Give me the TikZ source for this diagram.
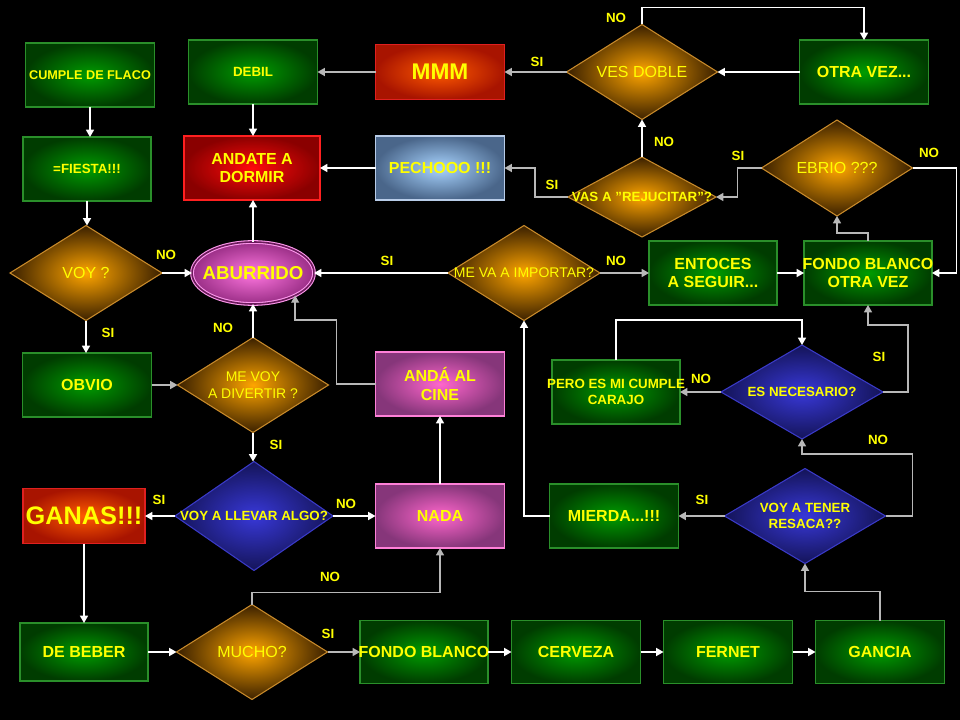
\documentclass[tikz,border=0pt]{standalone}
\usepackage{fontspec}
\setmainfont{Liberation Sans}
\usetikzlibrary{shapes.geometric,arrows.meta}
\definecolor{ylw}{HTML}{FFFF00}
\definecolor{lgray}{HTML}{B8B8B8}
\definecolor{gborder}{HTML}{2A8F2A}
\definecolor{ginner}{HTML}{009C00}
\definecolor{gouter}{HTML}{003C00}
\definecolor{oborder}{HTML}{C88A2A}
\definecolor{oinner}{HTML}{FFA500}
\definecolor{oouter}{HTML}{3A2000}
\definecolor{bborder}{HTML}{3A3AC8}
\definecolor{binner}{HTML}{3838D8}
\definecolor{bouter}{HTML}{141458}
\definecolor{rborder}{HTML}{FF2020}
\definecolor{rinner}{HTML}{FF0A0A}
\definecolor{router}{HTML}{8A0000}
\definecolor{mborder}{HTML}{E02020}
\definecolor{minner}{HTML}{FF5A00}
\definecolor{mouter}{HTML}{A81400}
\definecolor{pborder}{HTML}{FF80D8}
\definecolor{pinner}{HTML}{FF66CC}
\definecolor{pouter}{HTML}{86367A}
\definecolor{lbborder}{HTML}{B8CCE8}
\definecolor{lbinner}{HTML}{A8D4FF}
\definecolor{lbouter}{HTML}{4A668A}
\definecolor{abborder}{HTML}{FF99EE}
\definecolor{abinner}{HTML}{FF77E0}
\definecolor{abouter}{HTML}{9A2E86}
\definecolor{abgap}{HTML}{6A1A5A}
\begin{document}
\begin{tikzpicture}[x=0.75pt,y=-0.75pt,
  sz/.style 2 args={minimum width=#1*0.75pt, minimum height=#2*0.75pt},
  txt/.style={text=ylw, align=center, inner sep=0pt},
  t/.style 2 args={label={[txt,#1]center:{#2}}},
  fb10/.style={font=\bfseries\fontsize{10}{11.5}\selectfont},
  fb9/.style={font=\bfseries\fontsize{9.5}{11}\selectfont},
  fb12/.style={font=\bfseries\fontsize{12}{14}\selectfont},
  fr12/.style={font=\fontsize{12}{14}\selectfont},
  fr10/.style={font=\fontsize{10.5}{12.5}\selectfont},
  base/.style={draw, inner sep=0pt, outer sep=0pt},
  box/.style={base, rectangle, line width=0.9pt},
  gbox/.style={box, draw=gborder, inner color=ginner, outer color=gouter},
  rbox/.style={box, draw=rborder, inner color=rinner, outer color=router},
  mbox/.style={box, draw=mborder, inner color=minner, outer color=mouter},
  pbox/.style={box, draw=pborder, inner color=pinner, outer color=pouter},
  lbbox/.style={box, draw=lbborder, inner color=lbinner, outer color=lbouter},
  dia/.style={base, diamond, line width=0.8pt},
  odia/.style={dia, draw=oborder, inner color=oinner, outer color=oouter},
  bdia/.style={dia, draw=bborder, inner color=binner, outer color=bouter},
  lbl/.style={text=ylw, inner sep=0pt, font=\bfseries\fontsize{10}{11}\selectfont},
  wl/.style={draw=white, line width=1.1pt, -{Triangle[width=6pt,length=5.5pt]}},
  gl/.style={wl, draw=lgray},
]
\fill[black] (0,0) rectangle (960,720);
\useasboundingbox (0,0) rectangle (960,720);

% row 1
\node[gbox, sz={129}{64}, t={fb9}{CUMPLE DE FLACO}] (cumple) at (90,75) {};
\node[gbox, sz={129}{64}, t={fb10}{DEBIL}] (debil) at (253,72) {};
\node[mbox, sz={129}{55}, t={font=\bfseries\fontsize{17}{19}\selectfont}{MMM}] (mmm) at (440,72) {};
\node[odia, sz={151}{95}, t={fr12}{VES DOBLE}] (ves) at (642,72) {};
\node[gbox, sz={129}{64}, t={fb12}{OTRA VEZ...}] (otra) at (864,72) {};
% row 2
\node[gbox, sz={128}{64}, t={fb10}{=FIESTA!!!}] (fiesta) at (87,169) {};
\node[rbox, sz={136}{64}, t={fb12}{ANDATE A\\DORMIR}] (andate) at (252,168) {};
\node[lbbox, sz={129}{64}, t={fb12}{PECHOOO !!!}] (pech) at (440,168) {};
\node[odia, sz={148}{80}, t={fb10}{VAS A "REJUCITAR"?}] (vas) at (642,197) {};
\node[odia, sz={151}{96}, t={fr12}{EBRIO ???}] (ebrio) at (837,168) {};
% row 3
\node[odia, sz={152}{95}, t={fr12}{VOY ?}] (voy) at (86,273) {};
\node[ellipse, base, draw=abborder, double=abgap, double distance=1.2pt, line width=0.8pt,
      inner color=abinner, outer color=abouter, sz={122}{62},
      t={font=\bfseries\fontsize{14}{16}\selectfont}{ABURRIDO}] (aburr) at (253,273) {};
\node[odia, sz={152}{95}, t={fr10}{ME VA A IMPORTAR?}] (imp) at (524,273) {};
\node[gbox, sz={128}{64}, t={fb12}{ENTOCES\\A SEGUIR...}] (ent) at (713,273) {};
\node[gbox, sz={128}{64}, t={fb12}{FONDO BLANCO\\OTRA VEZ}] (fbov) at (868,273) {};
% row 4
\node[gbox, sz={129}{64}, t={fb12}{OBVIO}] (obvio) at (87,385) {};
\node[odia, sz={151}{95}, t={fr10}{ME VOY\\A DIVERTIR ?}] (div) at (253,385) {};
\node[pbox, sz={129}{64}, t={fb12}{ANDÁ AL\\CINE}] (cine) at (440,384) {};
\node[gbox, sz={128}{64}, t={fb10}{PERO ES MI CUMPLE\\CARAJO}] (pero) at (616,392) {};
\node[bdia, sz={162}{94}, t={fb10}{ES NECESARIO?}] (nec) at (802,392) {};
% row 5
\node[mbox, sz={122}{55}, t={font=\bfseries\fontsize{19}{21}\selectfont}{GANAS!!!}] (ganas) at (84,516) {};
\node[bdia, sz={158}{109}, t={fb10}{VOY A LLEVAR ALGO?}] (llevar) at (254,516) {};
\node[pbox, sz={129}{64}, t={fb12}{NADA}] (nada) at (440,516) {};
\node[gbox, sz={129}{64}, t={fb12}{MIERDA...!!!}] (mierda) at (614,516) {};
\node[bdia, sz={161}{95}, t={fb10}{VOY A TENER\\RESACA??}] (resaca) at (805,516) {};
% row 6
\node[gbox, sz={128}{58}, t={fb12}{DE BEBER}] (debeber) at (84,652) {};
\node[odia, sz={151}{95}, t={fr12}{MUCHO?}] (mucho) at (252,652) {};
\node[gbox, sz={128}{63}, t={fb12}{FONDO BLANCO}] (fb) at (424,652) {};
\node[gbox, sz={129}{63}, t={fb12}{CERVEZA}] (cerv) at (576,652) {};
\node[gbox, sz={129}{63}, t={fb12}{FERNET}] (fern) at (728,652) {};
\node[gbox, sz={129}{63}, t={fb12}{GANCIA}] (ganc) at (880,652) {};

% connectors
\draw[wl] (cumple.south) -- (cumple.south |- fiesta.north);
\draw[wl] (fiesta.south) -- (fiesta.south |- voy.north);
\draw[wl] (debil.south) -- (debil.south |- andate.north);
\draw[gl] (mmm.west) -- (debil.east);
\draw[gl] (ves.west) -- (mmm.east);
\draw[wl] (ves.north) -- ++(0,-17) -| (otra.north);
\draw[wl] (otra.west) -- (ves.east);
\draw[wl] (vas.north) -- (ves.south);
\draw[gl] (vas.west) -- ++(-33,0) |- (pech.east);
\draw[gl] (ebrio.west) -- ++(-24,0) |- (vas.east);
\draw[wl] (ebrio.east) -- ++(44,0) |- (fbov.east);
\draw[gl] (fbov.north) -- ++(0,-8) -| (ebrio.south);
\draw[wl] (pech.west) -- (andate.east);
\draw[wl] (aburr.north) -- (aburr.north |- andate.south);
\draw[wl] (voy.east) -- (aburr.west);
\draw[wl] (voy.south) -- (voy.south |- obvio.north);
\draw[wl] (imp.west) -- (aburr.east);
\draw[gl] (imp.east) -- (ent.west);
\draw[wl] (ent.east) -- (fbov.west);
\draw[gl] (obvio.east) -- (div.west);
\draw[wl] (div.north) -- (aburr.south);
\draw[gl] (cine.west) -- ++(-39,0) -- ++(0,-64) -| (aburr.-28);
\draw[wl] (div.south) -- (div.south |- llevar.north);
\draw[wl] (nada.north) -- (cine.south);
\draw[wl] (llevar.west) -- (ganas.east);
\draw[wl] (llevar.east) -- (nada.west);
\draw[wl] (ganas.south) -- (ganas.south |- debeber.north);
\draw[wl] (debeber.east) -- (mucho.west);
\draw[gl] (mucho.north) -- ++(0,-12) -| (nada.south);
\draw[gl] (mucho.east) -- (fb.west);
\draw[wl] (fb.east) -- (cerv.west);
\draw[wl] (cerv.east) -- (fern.west);
\draw[wl] (fern.east) -- (ganc.west);
\draw[gl] (ganc.north) -- ++(0,-29) -| (resaca.south);
\draw[gl] (resaca.west) -- (mierda.east);
\draw[gl] (resaca.east) -- ++(27,0) -- ++(0,-62) -| (nec.south);
\draw[wl] (mierda.west) -| (imp.south);
\draw[gl] (nec.west) -- (pero.east);
\draw[wl] (pero.north) -- ++(0,-40) -| (nec.north);
\draw[gl] (nec.east) -- ++(25,0) -- ++(0,-67) -| (fbov.south);

% labels
\node[lbl] (l1) at (616,18) {NO};
\node[lbl] (l2) at (537,62) {SI};
\node[lbl] (l3) at (664,142) {NO};
\node[lbl] (l4) at (738,156) {SI};
\node[lbl] (l5) at (929,153) {NO};
\node[lbl] (l6) at (552,185) {SI};
\node[lbl] (l7) at (166,255) {NO};
\node[lbl] (l8) at (387,261) {SI};
\node[lbl] (l9) at (616,261) {NO};
\node[lbl] (l10) at (108,333) {SI};
\node[lbl] (l11) at (223,328) {NO};
\node[lbl] (l12) at (879,357) {SI};
\node[lbl] (l13) at (701,379) {NO};
\node[lbl] (l14) at (878,440) {NO};
\node[lbl] (l15) at (276,445) {SI};
\node[lbl] (l16) at (159,500) {SI};
\node[lbl] (l17) at (346,504) {NO};
\node[lbl] (l18) at (702,500) {SI};
\node[lbl] (l19) at (330,577) {NO};
\node[lbl] (l20) at (328,634) {SI};
\end{tikzpicture}
\end{document}
